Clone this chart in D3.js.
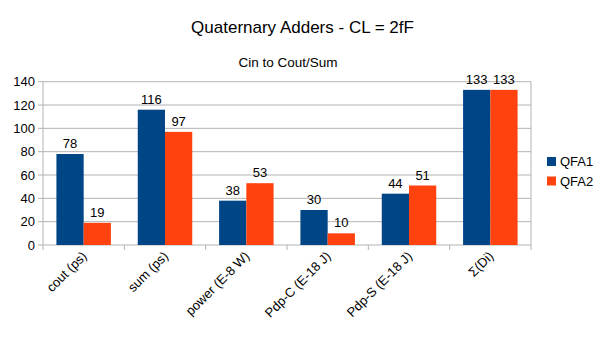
<!DOCTYPE html>
<html>
<head>
<meta charset="utf-8">
<script src="https://cdn.jsdelivr.net/npm/d3@7"></script>
<style>
body { margin: 0; background: #fff; }
svg { font-family: "Liberation Sans", Arial, sans-serif; }
</style>
</head>
<body>
<svg id="chart" width="605" height="340"></svg>
<script>
const categories = ["cout (ps)", "sum (ps)", "power (E-8 W)", "Pdp-C (E-18 J)", "Pdp-S (E-18 J)", "Σ(Di)"];
const seriesNames = ["QFA1", "QFA2"];
const qfa1 = [78, 116, 38, 30, 44, 133];
const qfa2 = [19, 97, 53, 10, 51, 133];
const yTicks = [0, 20, 40, 60, 80, 100, 120, 140];
const colors = ["#004586", "#ff420e"];

const margin = {left: 43, right: 74, top: 81.7, bottom: 95};
const width = 605, height = 340;

const svg = d3.select("#chart");

const x = d3.scaleBand()
    .domain(categories)
    .range([margin.left, width - margin.right])
    .paddingInner(0.33)
    .paddingOuter(0.165);

const xOuter = d3.scaleBand().domain(categories).range([margin.left, width - margin.right]);

const xs = d3.scaleBand().domain(seriesNames).range([0, x.bandwidth()]);

const y = d3.scaleLinear().domain([0, 140]).range([height - margin.bottom, margin.top]);

// grid
svg.append("g")
    .selectAll("line")
    .data(yTicks)
    .enter().append("line")
    .attr("x1", margin.left - 5)
    .attr("x2", width - margin.right)
    .attr("y1", d => y(d))
    .attr("y2", d => y(d))
    .attr("stroke", "#b3b3b3")
    .attr("stroke-width", 1);

// right border
svg.append("line")
    .attr("x1", width - margin.right).attr("x2", width - margin.right)
    .attr("y1", margin.top).attr("y2", y(0) + 5)
    .attr("stroke", "#b3b3b3");
svg.append("line")
    .attr("x1", margin.left).attr("x2", margin.left)
    .attr("y1", margin.top).attr("y2", y(0) + 5)
    .attr("stroke", "#b3b3b3");

// x ticks at category boundaries
svg.append("g")
    .selectAll("line")
    .data(categories.slice(1))
    .enter().append("line")
    .attr("x1", d => xOuter(d)).attr("x2", d => xOuter(d))
    .attr("y1", y(0)).attr("y2", y(0) + 5)
    .attr("stroke", "#b3b3b3");

// y labels
svg.append("g")
    .attr("font-size", 13)
    .attr("fill", "#000")
    .selectAll("text")
    .data(yTicks)
    .enter().append("text")
    .attr("x", margin.left - 8)
    .attr("y", d => y(d))
    .attr("dy", "0.36em")
    .attr("text-anchor", "end")
    .text(d => d);

const rows = categories.map((c, i) => ({cat: c, vals: [qfa1[i], qfa2[i]]}));

const groups = svg.append("g")
    .selectAll("g")
    .data(rows)
    .enter().append("g")
    .attr("transform", d => `translate(${x(d.cat)},0)`);

groups.selectAll("rect")
    .data(d => d.vals.map((v, j) => ({name: seriesNames[j], v: v, j: j})))
    .enter().append("rect")
    .attr("x", d => xs(d.name))
    .attr("width", xs.bandwidth())
    .attr("y", d => y(d.v))
    .attr("height", d => y(0) - y(d.v))
    .attr("fill", d => colors[d.j]);

groups.selectAll("text")
    .data(d => d.vals.map((v, j) => ({name: seriesNames[j], v: v})))
    .enter().append("text")
    .attr("x", d => xs(d.name) + xs.bandwidth() / 2)
    .attr("y", d => y(d.v) - 6)
    .attr("text-anchor", "middle")
    .attr("font-size", 13)
    .text(d => d.v);

// x labels rotated
svg.append("g")
    .attr("font-size", 13)
    .selectAll("text")
    .data(categories)
    .enter().append("text")
    .attr("text-anchor", "end")
    .attr("transform", d => `translate(${xOuter(d) + xOuter.bandwidth() / 2 + 4},${y(0) + 12}) rotate(-45)`)
    .text(d => d);

// titles
svg.append("text")
    .attr("x", width / 2).attr("y", 33)
    .attr("text-anchor", "middle")
    .attr("font-size", 17)
    .text("Quaternary Adders - CL = 2fF");

svg.append("text")
    .attr("x", 288).attr("y", 67)
    .attr("text-anchor", "middle")
    .attr("font-size", 13.5)
    .text("Cin to Cout/Sum");

// legend
const legend = svg.append("g")
    .selectAll("g")
    .data(seriesNames)
    .enter().append("g")
    .attr("transform", (d, i) => `translate(547,${157 + i * 19.5})`);

legend.append("rect")
    .attr("width", 9).attr("height", 9)
    .attr("fill", (d, i) => colors[i]);

legend.append("text")
    .attr("x", 13).attr("y", 4.5)
    .attr("dy", "0.36em")
    .attr("font-size", 13)
    .text(d => d);
</script>
</body>
</html>
